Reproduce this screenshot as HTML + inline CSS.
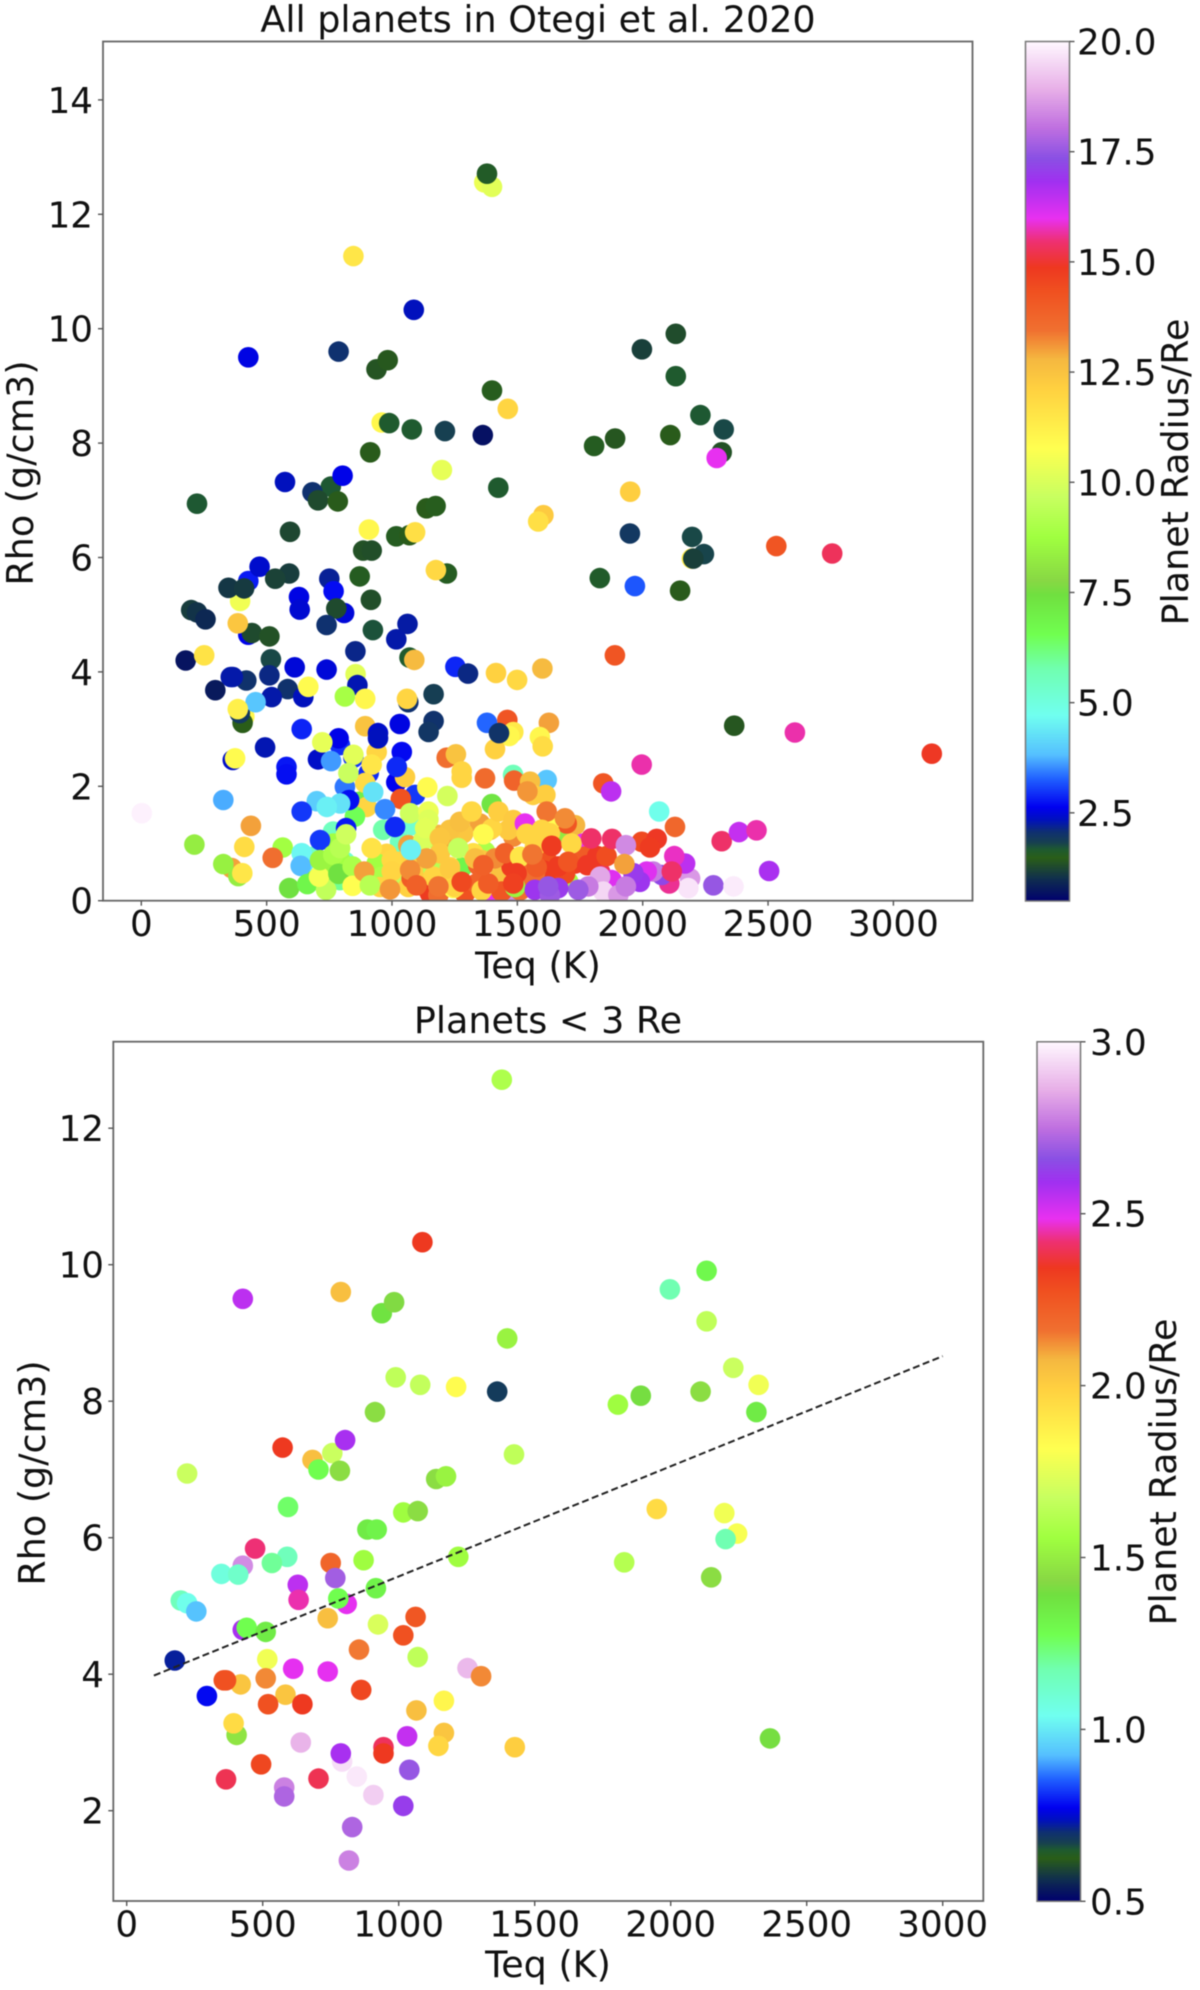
<!DOCTYPE html>
<html lang="en">
<head>
<meta charset="utf-8">
<title>Planet density vs equilibrium temperature</title>
<style>
html,body{margin:0;padding:0;background:#fff;width:1200px;height:1990px;overflow:hidden}
svg{display:block;filter:blur(0.55px)}
text{font-family:"DejaVu Sans","Liberation Sans",sans-serif;fill:#111}
</style>
</head>
<body>
<svg id="figure" xmlns="http://www.w3.org/2000/svg" width="1200" height="1990" viewBox="0 0 1200 1990">
  <defs>
    <linearGradient id="cmap-gradient" x1="0" y1="1" x2="0" y2="0"></linearGradient>
    <clipPath id="clip-top"><rect x="103" y="41.5" width="869.5" height="859.2"></rect></clipPath>
    <clipPath id="clip-bottom"><rect x="113.3" y="1041.7" width="870" height="859.3"></rect></clipPath>
  </defs>
  <rect width="1200" height="1990" fill="#fff"></rect>

  <g id="chart-top">
    <text x="538" y="32" font-size="36.5" text-anchor="middle">All planets in Otegi et al. 2020</text>
    <g id="top-dots" clip-path="url(#clip-top)"></g>
    <rect x="103" y="41.5" width="869.5" height="859.2" fill="none" stroke="#666" stroke-width="1.8"></rect>
    <g id="top-axes"></g>
    <text x="538" y="978" font-size="36.5" text-anchor="middle">Teq (K)</text>
    <text transform="translate(33 473) rotate(-90)" font-size="36.5" text-anchor="middle">Rho (g/cm3)</text>
    <rect x="1025.5" y="41.5" width="44" height="859.5" fill="url(#cmap-gradient)" stroke="#777" stroke-width="1.5"></rect>
    <g id="top-cbar"></g>
    <text transform="translate(1188 472) rotate(-90)" font-size="36.5" text-anchor="middle">Planet Radius/Re</text>
  </g>

  <g id="chart-bottom">
    <text x="548" y="1033" font-size="36.5" text-anchor="middle">Planets &lt; 3 Re</text>
    <g id="bottom-dots" clip-path="url(#clip-bottom)"></g>
    <rect x="113.3" y="1041.7" width="870" height="859.3" fill="none" stroke="#666" stroke-width="1.8"></rect>
    <g id="bottom-axes"></g>
    <text x="548" y="1977" font-size="36.5" text-anchor="middle">Teq (K)</text>
    <text transform="translate(45 1473) rotate(-90)" font-size="36.5" text-anchor="middle">Rho (g/cm3)</text>
    <rect x="1037" y="1041.8" width="43.5" height="859.5" fill="url(#cmap-gradient)" stroke="#777" stroke-width="1.5"></rect>
    <g id="bottom-cbar"></g>
    <text transform="translate(1176 1472) rotate(-90)" font-size="36.5" text-anchor="middle">Planet Radius/Re</text>
  </g>
</svg>
<script>
// Planets under 3 Re (appear in both charts)
var smallTeq = [1379,1087,427,787,938,983,1399,2132,1997,2132,
2230,2323,989,1079,1211,1362,913,1806,1890,2110,
2315,573,756,803,683,705,784,1424,222,1138,
1174,593,1017,1070,885,919,1949,2197,2244,2202,
1829,2149,1219,427,472,590,534,348,410,750,
871,767,629,632,916,809,778,199,222,256,
739,1062,1017,924,427,441,511,177,517,612,
739,854,1070,1253,1303,419,357,365,511,295,
584,520,646,862,1065,1166,404,393,640,1166,
1146,1427,1031,944,944,792,787,1039,2365,494,
365,705,846,579,579,907,1017,829,817];
var smallRho = [12.71,10.33,9.5,9.6,9.29,9.45,8.92,9.91,9.64,9.17,
8.49,8.24,8.35,8.24,8.21,8.14,7.84,7.95,8.08,8.14,
7.84,7.32,7.24,7.43,7.14,7.0,6.98,7.22,6.94,6.86,
6.9,6.45,6.37,6.39,6.12,6.12,6.42,6.36,6.06,5.98,
5.64,5.42,5.72,5.59,5.84,5.72,5.63,5.47,5.46,5.63,
5.67,5.41,5.31,5.09,5.26,5.03,5.11,5.08,5.04,4.92,
4.82,4.84,4.57,4.73,4.65,4.68,4.62,4.2,4.22,4.08,
4.04,4.36,4.25,4.09,3.97,3.85,3.91,3.91,3.94,3.68,
3.7,3.56,3.56,3.77,3.47,3.61,3.11,3.28,3.0,3.14,
2.95,2.93,3.09,2.93,2.84,2.72,2.84,2.6,3.06,2.68,
2.46,2.47,2.5,2.34,2.21,2.23,2.07,1.76,1.27];
var smallRadius = [1.6,2.34,2.55,2.05,1.38,1.42,1.52,1.3,1.17,1.65,
1.68,1.78,1.65,1.66,1.83,0.68,1.45,1.55,1.4,1.45,
1.35,2.34,1.68,2.58,2.05,1.28,1.45,1.65,1.68,1.45,
1.52,1.25,1.55,1.45,1.35,1.32,1.95,1.78,1.8,1.17,
1.62,1.45,1.55,2.8,2.42,1.15,1.2,1.08,1.12,2.2,
1.55,2.7,2.55,2.45,1.32,2.49,1.28,1.15,1.05,0.93,
2.05,2.25,2.27,1.72,2.58,1.28,1.35,0.72,1.78,2.49,
2.49,2.15,1.65,2.88,2.13,2.03,2.27,2.27,2.13,0.78,
2.03,2.27,2.34,2.3,2.05,1.85,1.47,1.95,2.87,2.03,
1.97,2.0,2.54,2.4,2.34,2.95,2.58,2.68,1.4,2.3,
2.39,2.39,2.97,2.78,2.72,2.92,2.62,2.72,2.78];

// Larger planets drawn beneath the small ones in the top chart
var backTeq = [1368,1399,959,2196,394,855,411,893,1460,1379,
1484,1468,1411,939,812,1092,1483,872,899,852,
361,387,793,686,812,1032,965,1079,1065,1178,
1278,1371,1391,1398,1477,1670,1730,1750,1763,1703,
1524,1444,1697,1630,1404,1470,765,
1185,1231,1211,1112,1191,1072,1032,1018,1065,1078,
1138,1132,1151,1185,1291,1338,1344,1324,1511,1431,
1437,1477,1550,1617,1604,1590,1524,1491,1570,1630,
1484,1464,1351,1398,1284,1231,1165,1125,952,979,
939,959,866,793,753,686,646,766,739,952,
1006,1112,1165,1165,1231,1205,1730,1830,1770,1650,1690];
var backRho = [12.56,12.48,8.36,5.98,5.24,3.96,3.22,3.05,3.16,3.11,
2.95,2.88,2.65,2.6,1.99,1.85,2.2,1.73,1.64,1.47,
0.57,0.43,0.36,0.77,0.68,1.03,1.24,1.32,0.97,0.48,
0.58,0.86,1.24,1.69,1.29,1.21,1.32,0.92,1.0,0.33,
0.48,0.54,1.35,1.38,0.07,0.04,1.21,
1.15,1.0,0.97,0.74,0.68,0.77,0.68,0.36,0.24,0.39,
0.42,0.24,0.13,0.1,0.13,0.3,0.62,0.83,0.18,0.42,
0.16,0.59,0.5,0.71,0.53,0.39,0.24,0.24,0.94,1.18,
1.12,1.24,1.35,1.26,1.18,1.24,1.09,1.06,0.77,0.82,
0.65,0.42,0.36,0.71,0.71,0.36,0.65,1.0,0.53,0.24,
0.65,0.59,0.53,0.42,0.59,0.3,0.65,0.5,0.77,0.42,0.47];
var backRadius = [10.4,10.2,11,11.3,10.5,10.2,11,12.5,14.2,3.3,
11.4,11,12.1,12,3.4,3,5.6,7,12,6.5,
13,8.3,6,5.4,5.2,5.5,5.8,5.2,13,9,
6.8,9,12.8,7.3,13.2,8.2,12.8,15.9,16,8.9,
14.3,12,14.2,10.8,16,18.4,5.5,
12.8,12.6,13,12.6,12.8,12,12,9.5,12.1,14,
12.9,14,14.8,13.5,14.3,13.8,13.8,11.7,13.5,12.5,
14.2,14.8,13.5,14.3,14.8,13.5,13.5,8.5,12,12,
13.2,12.3,13,12,12.4,12.5,9.5,10,9,12,
8.8,9,9,8.8,8.4,7,4.3,8.8,8.5,12,
12,12.2,9.3,12,12,12,14.8,15.3,14,14.8,14.5];

// Larger planets drawn on top in the top chart
var frontTeq = [846,1462,1199,1950,1604,1583,908,1092,1175,1969,
2295,2533,2756,385,251,1089,1415,1499,1600,1889,
666,812,893,456,385,1060,1626,1590,1601,374,
722,757,846,919,893,826,1052,1019,1218,1255,
1278,1278,1371,1487,1617,1551,1612,1563,1540,1141,
1035,1221,925,972,700,793,740,640,327,2,
437,212,411,327,403,564,524,590,713,640,
636,662,737,709,713,766,793,817,786,843,
843,919,889,912,1012,1072,1145,1145,1132,999,
999,992,1191,1191,1271,1318,1424,1484,1617,1690,
1530,1364,1537,1597,1264,1138,1072,1231,1358,1331,
1358,1245,1251,1098,1185,1384,1411,1364,1451,1511,
1497,1278,1484,1577,1663,1560,1637,1716,1703,1779,
1819,1856,1795,1878,1996,2056,2029,1933,2129,2066,
1843,1874,1996,2607,3153,2315,2384,2454,2504,2282,
2362,2189,2182,2169,2126,2106,2076,2042,2016,2116,
1989,1963,1927,1876,1830,1843,1903,1933,1783,1743,
1570,1663,1630,1623,1075];
var frontRho = [11.27,8.6,7.53,7.15,6.74,6.63,6.49,6.44,5.78,5.5,
7.74,6.2,6.07,4.85,4.29,4.21,3.98,3.86,4.06,4.29,
3.74,3.57,3.53,3.47,3.35,3.53,3.11,2.86,2.7,2.49,
2.77,2.44,2.55,2.38,2.06,2.23,2.16,2.34,2.5,2.56,
2.26,2.15,2.14,2.1,2.11,2.08,1.85,1.85,1.91,1.98,
1.78,1.83,1.9,1.6,1.74,1.7,1.64,1.56,1.76,1.53,
1.31,0.98,0.94,0.64,0.48,0.93,0.75,0.22,1.06,0.83,
0.61,0.29,0.19,0.42,0.71,0.8,0.92,1.16,0.47,0.6,
0.26,0.92,0.51,0.27,1.29,1.53,1.56,1.42,1.27,0.71,
0.51,0.2,1.1,0.83,1.38,1.56,1.56,1.41,1.56,1.44,
1.35,1.16,1.17,1.24,0.92,0.74,0.54,0.56,0.71,0.74,
0.18,0.22,0.24,0.27,0.25,0.3,0.74,0.62,0.83,0.77,
0.48,0.33,0.3,0.59,0.6,0.81,0.96,1.0,0.68,0.62,
0.78,0.78,1.09,1.08,1.03,1.08,0.93,0.97,1.29,1.56,
2.05,1.91,2.38,2.94,2.57,1.04,1.2,1.23,0.52,0.27,
0.25,0.39,0.22,0.65,0.78,0.3,0.45,0.51,0.51,0.51,
0.33,0.48,0.64,0.36,0.42,0.16,0.1,0.25,0.25,0.19,
0.19,0.22,0.1,0.25,0.89];
var frontRadius = [11.5,12,10.3,12.2,12.3,11.7,11,11.7,11.9,3.2,
16,14.2,15.3,12.4,11.6,12.7,12.1,11.9,12.7,14.2,
10.9,8.9,11,3.9,11.2,12,13,11,11.8,10.9,
10.3,3.6,10.2,11.5,11.8,9.7,12.2,2.9,13.5,12.5,
12,12,13.6,13.8,3.9,12.6,12.2,12.2,13.1,10.9,
14.3,9.9,4.3,3.5,4,4.3,4.5,3,3.7,19.9,
13,8.3,11.8,8.4,11.5,8.8,13.5,7.4,3,4.6,
3.8,6.8,9.5,10.6,8.5,9,9.3,9.8,7.4,9,
10.8,11.6,13,9.3,2.9,9.8,10.4,10.1,10.2,11.9,
12,13.1,12.4,12.3,12.6,11.9,12.2,12.3,13.4,13.2,
16,10.9,12,12,9.6,13,13.2,12.3,12.4,12.6,
12,10.8,12,13.9,13.4,14,13.2,13.9,13.9,11.5,
14.8,14.5,14.7,14,14.8,13.4,14.8,11.9,14.2,14.9,
14.9,14.4,15.4,15.4,14.5,14.9,14.8,18.4,13.7,4.8,
14.2,16.5,15.7,15.7,14.9,15.4,16.4,15.7,16.7,17.5,
19.8,18.6,19.7,16.5,15.8,15.6,17.2,18.2,16.1,15.4,
16.9,17,13,16.1,18.8,19.5,18.6,18.2,18.2,17.6,
16.9,17,17.6,17.5,4.5];

// Trend line in the bottom chart
var trendTeq = [100,3000];
var trendRho = [3.98,8.66];

// Tick labels
var xTicks = [0,500,1000,1500,2000,2500,3000];
var topYTicks = [0,2,4,6,8,10,12,14];
var bottomYTicks = [2,4,6,8,10,12];
var topCbarTicks = ["2.5","5.0","7.5","10.0","12.5","15.0","17.5","20.0"];
var bottomCbarTicks = ["0.5","1.0","1.5","2.0","2.5","3.0"];

// Colormap (position along bar, colour)
var cmapPos = [0,.025,.05,.06,.068,.08,.095,.109,.142,.17,.216,.27,.31,.356,.373,.423,.47,.527,.597,.63,.664,.71,.737,.767,.794,.837,.864,.9,.945,1];
var cmapCol = ["#00006e","#0f2d4f","#2a5e18","#1e5a30","#174050","#0f3070","#0010c0","#0000f0","#2060ff","#55c0ff","#70fff0","#70ffb0","#70ff50","#70e040","#88d844","#a0ff40","#c8ff60","#ffff50","#ffd040","#f5b840","#f07030","#f05020","#ee3820","#ee3070","#e830f0","#a030f0","#8a50e4","#c070e0","#e8b0e8","#fff8ff"];

var NS = "http://www.w3.org/2000/svg";
function hexRgb(h){return [parseInt(h.substr(1,2),16),parseInt(h.substr(3,2),16),parseInt(h.substr(5,2),16)];}
function cmap(t){
  t=Math.max(0,Math.min(1,t));
  for(var i=1;i<cmapPos.length;i++){
    if(t<=cmapPos[i]){
      var f=(t-cmapPos[i-1])/(cmapPos[i]-cmapPos[i-1]);
      var a=hexRgb(cmapCol[i-1]),b=hexRgb(cmapCol[i]);
      return "rgb("+Math.round(a[0]+(b[0]-a[0])*f)+","+Math.round(a[1]+(b[1]-a[1])*f)+","+Math.round(a[2]+(b[2]-a[2])*f)+")";
    }
  }
  return cmapCol[cmapCol.length-1];
}
var grad=document.getElementById("cmap-gradient");
cmapPos.forEach(function(p,i){
  var s=document.createElementNS(NS,"stop");
  s.setAttribute("offset",p);
  s.setAttribute("stop-color",cmapCol[i]);
  grad.appendChild(s);
});

// Axis functions
function topX(v){return 141.3+0.2507*v;}
function topY(v){return 900.7-57.2*v;}
function topC(v){return (v-0.5)/19.5;}
function topBarY(v){return 901-(v-0.5)*(859.5/19.5);}
function botX(v){return 126.7+0.272*v;}
function botY(v){return 1810.7-(v-2)*68.25;}
function botC(v){return (v-0.5)/2.5;}
function botBarY(v){return 1901.3-(v-0.5)*(859.5/2.5);}

function drawDots(gid,xs,ys,rs,fx,fy,fc){
  var g=document.getElementById(gid);
  for(var i=0;i<xs.length;i++){
    var c=document.createElementNS(NS,"circle");
    
    
    c.setAttribute("cx",fx(xs[i]).toFixed(1));
    c.setAttribute("cy",fy(ys[i]).toFixed(1));
    c.setAttribute("r","10.3");
    c.setAttribute("fill",cmap(fc(rs[i])));
    g.appendChild(c);
  }
}
function tickLine(g,x1,y1,x2,y2){
  var l=document.createElementNS(NS,"line");
  
  
  l.setAttribute("x1",x1);
  l.setAttribute("y1",y1);
  l.setAttribute("x2",x2);
  l.setAttribute("y2",y2);
  l.setAttribute("stroke","#555");
  l.setAttribute("stroke-width","1.4");
  g.appendChild(l);
}
function tickText(g,x,y,str,anchor){
  var t=document.createElementNS(NS,"text");
  
  
  t.setAttribute("x",x);
  t.setAttribute("y",y);
  t.setAttribute("font-size","35.7");
  t.setAttribute("text-anchor",anchor);
  t.textContent=str;
  g.appendChild(t);
}
function drawAxes(gid,fx,fy,yt,axisY,axisX,baseX,labelRight){
  var g=document.getElementById(gid);
  xTicks.forEach(function(v){
    tickLine(g,fx(v),axisY,fx(v),axisY+5);
    tickText(g,fx(v),baseX,String(v),"middle");
  });
  yt.forEach(function(v){
    tickLine(g,axisX-5,fy(v),axisX,fy(v));
    tickText(g,labelRight,fy(v)+13,String(v),"end");
  });
}
function drawBar(gid,ticks,fy,x0,lx){
  var g=document.getElementById(gid);
  ticks.forEach(function(s){
    var y=fy(parseFloat(s));
    tickLine(g,x0,y,x0+5,y);
    tickText(g,lx,y+13,s,"start");
  });
}

drawDots("top-dots",backTeq,backRho,backRadius,topX,topY,topC);
drawDots("top-dots",smallTeq,smallRho,smallRadius,topX,topY,topC);
drawDots("top-dots",frontTeq,frontRho,frontRadius,topX,topY,topC);
drawDots("bottom-dots",smallTeq,smallRho,smallRadius,botX,botY,botC);

var trend=document.createElementNS(NS,"line");


trend.setAttribute("x1",botX(trendTeq[0]));
trend.setAttribute("y1",botY(trendRho[0]));
trend.setAttribute("x2",botX(trendTeq[1]));
trend.setAttribute("y2",botY(trendRho[1]));
trend.setAttribute("stroke","#222");
trend.setAttribute("stroke-width","2");
trend.setAttribute("stroke-dasharray","7 3.5");
document.getElementById("bottom-dots").appendChild(trend);

drawAxes("top-axes",topX,topY,topYTicks,900.7,103,936,93);
drawAxes("bottom-axes",botX,botY,bottomYTicks,1901,113.3,1936.5,104);
drawBar("top-cbar",topCbarTicks,topBarY,1069.5,1077);
drawBar("bottom-cbar",bottomCbarTicks,botBarY,1080.5,1090);
</script>
</body>
</html>
